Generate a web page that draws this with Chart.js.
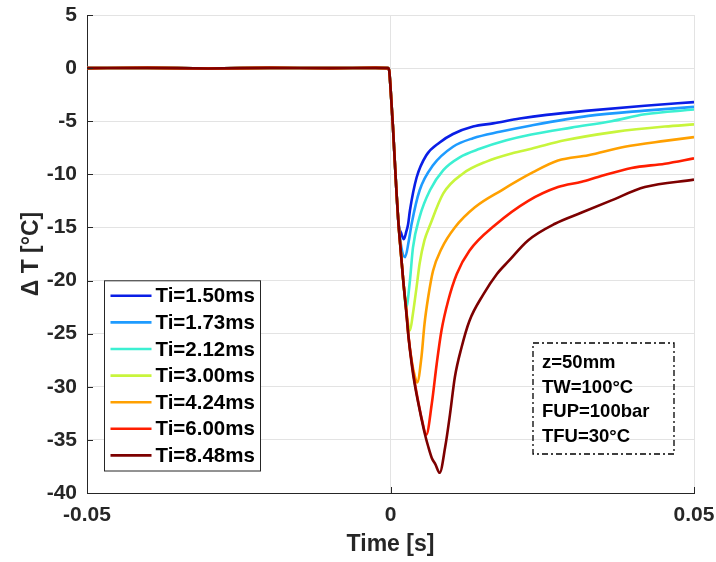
<!DOCTYPE html>
<html>
<head>
<meta charset="utf-8">
<script src="https://cdn.jsdelivr.net/npm/chart.js@4"></script>
<style>
  html, body { margin: 0; padding: 0; background: #fff; }
  canvas { display: block; }
</style>
</head>
<body>
<canvas id="myChart" width="716" height="562"></canvas>
<script>
// shared part: flat baseline and the first steep drop
var timePre = [-0.05, -0.04, -0.03, -0.02, -0.01, -0.0025, -0.0004, -0.0002, 0, 0.0004, 0.0007, 0.001, 0.0013];
var dTPre   = [0, 0.02, -0.03, 0.02, 0, 0.02, 0, -0.3, -1.8, -5.5, -8.7, -11.8, -14.5];

// each injection time, the rest of the curve
var t150  = [0.0018, 0.0022, 0.0026, 0.0029, 0.0032, 0.0043, 0.0059, 0.0081, 0.0103, 0.0136, 0.0169, 0.0213, 0.0257, 0.0326, 0.0419, 0.05];
var dT150 = [-15.6, -16.1, -15.4, -14.7, -13.4, -10.3, -8.2, -7.0, -6.2, -5.5, -5.2, -4.75, -4.4, -4.0, -3.55, -3.2];

var t173  = [0.0018, 0.0024, 0.003, 0.0035, 0.0048, 0.007, 0.0103, 0.0136, 0.018, 0.0232, 0.0326, 0.0419, 0.05];
var dT173 = [-16.9, -17.8, -16.3, -14.6, -11.5, -9.15, -7.4, -6.6, -6.0, -5.4, -4.5, -4.0, -3.65];

var t212  = [0.0017, 0.0021, 0.0026, 0.0032, 0.0037, 0.0048, 0.0065, 0.0087, 0.0114, 0.0147, 0.0191, 0.0232, 0.0298, 0.0364, 0.0419, 0.05];
var dT212 = [-17.3, -20.0, -22.5, -20.0, -16.9, -14.0, -11.5, -9.6, -8.4, -7.6, -6.8, -6.25, -5.6, -5.0, -4.35, -3.9];

var t300  = [0.0017, 0.0021, 0.0026, 0.0032, 0.0037, 0.0043, 0.0048, 0.0056, 0.0065, 0.0087, 0.012, 0.0158, 0.0202, 0.0232, 0.0287, 0.037, 0.0452, 0.05];
var dT300 = [-17.3, -20.0, -22.8, -24.7, -23.1, -20.6, -18.4, -16.2, -14.8, -11.8, -9.9, -8.8, -8.0, -7.6, -6.8, -6.0, -5.5, -5.3];

var t424  = [0.0017, 0.0021, 0.0026, 0.003, 0.0035, 0.004, 0.0044, 0.0051, 0.0056, 0.0062, 0.007, 0.0084, 0.0106, 0.0139, 0.0183, 0.0235, 0.0276, 0.0326, 0.0386, 0.0452, 0.05];
var dT424 = [-17.3, -20.0, -22.8, -25.5, -27.6, -29.0, -29.6, -27.2, -24.1, -21.6, -19.1, -17.0, -15.0, -13.1, -11.5, -9.8, -8.7, -8.2, -7.4, -6.85, -6.5];

var t600  = [0.0017, 0.0021, 0.0026, 0.003, 0.0035, 0.004, 0.0046, 0.0051, 0.0059, 0.0068, 0.0076, 0.0084, 0.0095, 0.0109, 0.013, 0.0172, 0.0227, 0.0276, 0.0315, 0.0342, 0.0397, 0.0452, 0.05];
var dT600 = [-17.3, -20.0, -22.8, -25.4, -27.7, -29.6, -31.5, -32.9, -34.5, -31.6, -27.9, -24.7, -21.9, -19.4, -17.2, -14.8, -12.5, -11.2, -10.7, -10.25, -9.4, -9.0, -8.5];

var t848  = [0.0017, 0.0021, 0.0026, 0.003, 0.0035, 0.004, 0.0046, 0.0051, 0.0056, 0.0062, 0.0068, 0.0074, 0.0081, 0.009, 0.0098, 0.0106, 0.0117, 0.013, 0.0153, 0.0175, 0.0194, 0.0227, 0.0271, 0.0315, 0.0364, 0.0419, 0.05];
var dT848 = [-17.3, -20.0, -23.0, -25.5, -27.9, -29.8, -31.6, -33.0, -34.3, -35.6, -36.7, -37.3, -38.1, -35.7, -32.6, -29.1, -26.3, -23.8, -21.3, -19.4, -18.2, -16.2, -14.65, -13.6, -12.45, -11.2, -10.5];

var labels = ['Ti=1.50ms', 'Ti=1.73ms', 'Ti=2.12ms', 'Ti=3.00ms', 'Ti=4.24ms', 'Ti=6.00ms', 'Ti=8.48ms'];
var colors = ['#0a1ee6', '#1e9bff', '#3cf0d2', '#c8f53c', '#ffa000', '#ff1e00', '#7d0000'];
var times  = [t150, t173, t212, t300, t424, t600, t848];
var values = [dT150, dT173, dT212, dT300, dT424, dT600, dT848];

var infoLines = ['z=50mm', 'TW=100\u00b0C', 'FUP=100bar', 'TFU=30\u00b0C'];

var FONT = '"Liberation Sans", Arial, sans-serif';
var INK = '#262626';

function makeSeries(i) {
  var xs = timePre.concat(times[i]);
  var ys = dTPre.concat(values[i]);
  return xs.map(function (x, k) { return { x: x, y: ys[k] }; });
}

// later series on top (dark red covers the shared drop)
var datasets = labels.map(function (lab, i) {
  return {
    label: lab,
    data: makeSeries(i),
    order: labels.length - 1 - i,
    borderColor: colors[i],
    backgroundColor: colors[i],
    borderWidth: 2.6,
    pointRadius: 0,
    cubicInterpolationMode: 'monotone',
    fill: false
  };
});

var boxPlugin = {
  id: 'boxes',
  afterDraw: function (chart) {
    var ctx = chart.ctx;
    var a = chart.chartArea;
    var xs = chart.scales.x, ys = chart.scales.y;

    // inward ticks, matlab style
    ctx.save();
    ctx.strokeStyle = INK;
    ctx.lineWidth = 1;
    ctx.beginPath();
    ys.ticks.forEach(function (t) {
      var py = Math.round(ys.getPixelForValue(t.value)) + 0.5;
      ctx.moveTo(a.left, py); ctx.lineTo(a.left + 6, py);
    });
    xs.ticks.forEach(function (t) {
      var px = Math.round(xs.getPixelForValue(t.value)) + 0.5;
      ctx.moveTo(px, a.bottom); ctx.lineTo(px, a.bottom - 6);
    });
    ctx.stroke();
    ctx.restore();

    // legend box
    var rowH = 26.6;
    var lw = 156, lh = rowH * labels.length + 4;
    var lx = a.left + 17.5, ly = a.bottom - 22 - lh;
    ctx.save();
    ctx.fillStyle = '#fff';
    ctx.fillRect(lx, ly, lw, lh);
    ctx.strokeStyle = INK;
    ctx.lineWidth = 1;
    ctx.strokeRect(lx, ly, lw, lh);
    ctx.font = 'bold 20.5px ' + FONT;
    ctx.textBaseline = 'middle';
    ctx.fillStyle = '#000';
    labels.forEach(function (lab, i) {
      var cy = ly + 15 + i * rowH;
      ctx.strokeStyle = colors[i];
      ctx.lineWidth = 2.6;
      ctx.beginPath();
      ctx.moveTo(lx + 6, cy); ctx.lineTo(lx + 47, cy);
      ctx.stroke();
      ctx.fillText(lab, lx + 51, cy + 1);
    });
    ctx.restore();

    // info box, dash-dot border
    var bx = 533, by = 343, bw = 141, bh = 111;
    ctx.save();
    ctx.strokeStyle = '#000';
    ctx.lineWidth = 1.3;
    ctx.setLineDash([6, 3, 2, 3]);
    ctx.strokeRect(bx, by, bw, bh);
    ctx.setLineDash([]);
    ctx.font = 'bold 18.5px ' + FONT;
    ctx.textBaseline = 'middle';
    ctx.fillStyle = '#000';
    infoLines.forEach(function (s, i) {
      ctx.fillText(s, bx + 9, by + 20 + i * 24.5);
    });
    ctx.restore();
  }
};

var ctx = document.getElementById('myChart').getContext('2d');
var chart = new Chart(ctx, {
  type: 'line',
  data: { datasets: datasets },
  options: {
    responsive: false,
    animation: false,
    layout: { padding: { top: 15, right: 22, left: 0, bottom: 0 } },
    plugins: { legend: { display: false }, tooltip: { enabled: false } },
    scales: {
      x: {
        type: 'linear',
        min: -0.05,
        max: 0.05,
        afterFit: function (s) {
          s.height = 69;
          s.paddingLeft = 0;
          s.paddingRight = 0;
        },
        ticks: {
          stepSize: 0.05,
          padding: 10,
          color: INK,
          maxRotation: 0,
          font: { family: FONT, size: 21, weight: 'bold' },
          callback: function (v) {
            var r = Math.round(v * 100) / 100;
            return r === 0 ? '0' : String(r);
          }
        },
        grid: { color: '#e3e3e3', drawTicks: false },
        border: { color: INK },
        title: {
          display: true,
          text: 'Time [s]',
          color: INK,
          padding: { top: 0, bottom: 4 },
          font: { family: FONT, size: 23, weight: 'bold' }
        }
      },
      y: {
        min: -40,
        max: 5,
        afterFit: function (s) {
          s.width = 87;
          s.paddingTop = 0;
          s.paddingBottom = 0;
        },
        ticks: {
          stepSize: 5,
          padding: 10,
          color: INK,
          font: { family: FONT, size: 21, weight: 'bold' }
        },
        grid: { color: '#e3e3e3', drawTicks: false },
        border: { color: INK },
        title: {
          display: true,
          text: '\u0394 T [\u00b0C]',
          color: INK,
          padding: { top: 18, bottom: 0 },
          font: { family: FONT, size: 23, weight: 'bold' }
        }
      }
    }
  },
  plugins: [boxPlugin]
});
</script>
</body>
</html>
